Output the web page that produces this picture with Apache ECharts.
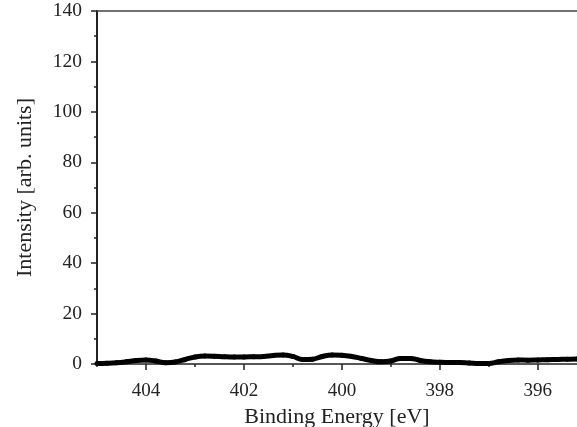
<!DOCTYPE html>
<html>
<head>
<meta charset="utf-8">
<script src="https://cdn.jsdelivr.net/npm/echarts@6/dist/echarts.min.js"></script>
<style>
  html, body { margin: 0; padding: 0; background: #fff; }
  #chart { width: 577px; height: 427px; }
</style>
</head>
<body>
<div id="chart"></div>
<script>
// binding energy (eV) and intensity
const energy = [405.0, 404.8, 404.6, 404.4, 404.2, 404.0, 403.8, 403.6, 403.4, 403.2,
  403.0, 402.8, 402.6, 402.4, 402.2, 402.0, 401.8, 401.6, 401.4, 401.2,
  401.0, 400.8, 400.6, 400.4, 400.2, 400.0, 399.8, 399.6, 399.4, 399.2,
  399.0, 398.8, 398.6, 398.4, 398.2, 398.0, 397.8, 397.6, 397.4, 397.2,
  397.0, 396.8, 396.6, 396.4, 396.2, 396.0, 395.8, 395.6, 395.4, 395.2];
const intensity = [0.2, 0.3, 0.5, 0.9, 1.4, 1.6, 1.2, 0.5, 0.8, 1.8,
  2.8, 3.2, 3.1, 2.9, 2.8, 2.8, 2.9, 3.0, 3.4, 3.6,
  3.0, 1.8, 1.9, 3.0, 3.6, 3.5, 3.0, 2.2, 1.4, 0.9,
  1.2, 2.2, 2.2, 1.4, 0.9, 0.7, 0.6, 0.6, 0.4, 0.2,
  0.2, 0.9, 1.4, 1.6, 1.5, 1.6, 1.7, 1.8, 1.9, 2.0];
const xTicks = [404, 402, 400, 398, 396];
const xMinorTicks = [405, 403, 401, 399, 397, 395];

const font = 'Liberation Serif';
const myChart = echarts.init(document.getElementById('chart'));

let option = {
  animation: false,
  grid: { left: 97, right: 0, top: 11, bottom: 63, outerBoundsMode: 'none' },
  xAxis: [
    {
      type: 'value',
      inverse: true,
      min: 395.2,
      max: 405,
      position: 'bottom',
      name: 'Binding Energy [eV]',
      nameLocation: 'middle',
      nameGap: 37,
      nameTextStyle: { fontFamily: font, fontSize: 22, color: '#222' },
      axisLine: { show: true, lineStyle: { color: '#222', width: 1.5 } },
      axisTick: { show: true, length: 6, customValues: xTicks, lineStyle: { color: '#222', width: 1.5 } },
      axisLabel: { customValues: xTicks, margin: 18, fontFamily: font, fontSize: 19, color: '#222' },
      splitLine: { show: false }
    },
    {
      // minor ticks
      type: 'value',
      inverse: true,
      min: 395.2,
      max: 405,
      position: 'bottom',
      axisLine: { show: false },
      axisTick: { show: true, length: 3, customValues: xMinorTicks, lineStyle: { color: '#222', width: 1.5 } },
      axisLabel: { show: false },
      splitLine: { show: false }
    },
    {
      // top frame
      type: 'value',
      inverse: true,
      min: 395.2,
      max: 405,
      position: 'top',
      axisLine: { show: true, lineStyle: { color: '#444', width: 1.5 } },
      axisTick: { show: false },
      axisLabel: { show: false },
      splitLine: { show: false }
    }
  ],
  yAxis: {
    type: 'value',
    min: 0,
    max: 140,
    interval: 20,
    name: 'Intensity [arb. units]',
    nameLocation: 'middle',
    nameGap: 61,
    nameTextStyle: { fontFamily: font, fontSize: 22, color: '#222' },
    axisLine: { show: true, lineStyle: { color: '#222', width: 2 } },
    axisTick: { show: true, length: 6, lineStyle: { color: '#222', width: 1.5 } },
    minorTick: { show: true, splitNumber: 2, length: 3, lineStyle: { color: '#222', width: 1.5 } },
    axisLabel: { margin: 15, fontFamily: font, fontSize: 19.5, color: '#222' },
    splitLine: { show: false }
  },
  series: [
    {
      type: 'line',
      xAxisIndex: 0,
      data: energy.map((e, i) => [e, intensity[i]]),
      smooth: 0.4,
      symbol: 'circle',
      symbolSize: 5,
      itemStyle: { color: '#000' },
      lineStyle: { color: '#000', width: 5 }
    }
  ]
};
myChart.setOption(option);
</script>
</body>
</html>
